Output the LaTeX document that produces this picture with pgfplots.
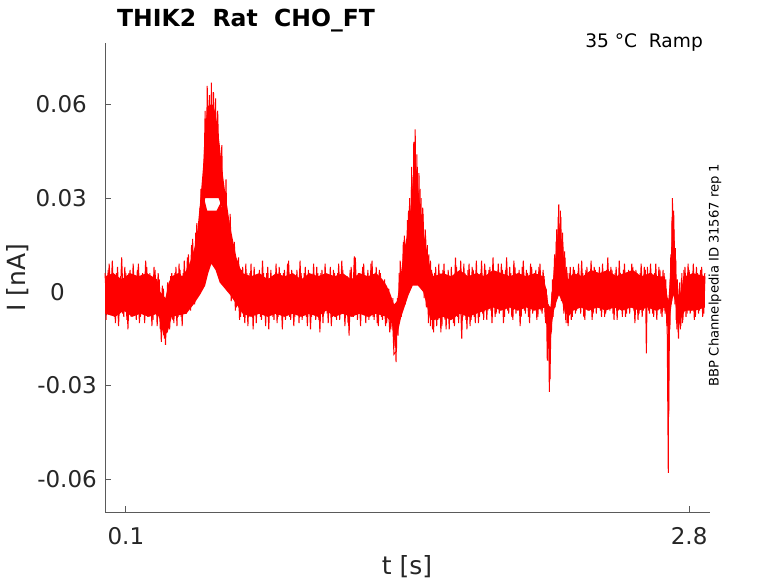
\documentclass[border=0pt]{standalone}
\usepackage{fontspec}
\setmainfont{DejaVu Sans}
\usepackage{pgfplots}
\pgfplotsset{compat=1.18}
\definecolor{txt}{RGB}{38,38,38}
\definecolor{axc}{RGB}{90,90,90}
\begin{document}
\begin{tikzpicture}
\useasboundingbox (0,0) rectangle (778bp,583bp);
\begin{axis}[
  at={(105bp,71bp)}, anchor=south west,
  scale only axis, width=605bp, height=469bp,
  xmin=0, xmax=2.9, ymin=-0.0705, ymax=0.0797,
  scaled ticks=false,
  axis x line*=bottom, axis y line*=left,
  axis line style={axc, line width=0.8bp},
  tick style={axc, line width=0.8bp},
  tick align=inside, major tick length=6bp,
  xtick={0.1,2.8}, xticklabels={0.1,2.8},
  ytick={-0.06,-0.03,0,0.03,0.06},
  yticklabels={-0.06,-0.03,{0\rule{32bp}{0pt}},{0.03\rule{10bp}{0pt}},{0.06\rule{10bp}{0pt}}},
  ticklabel style={font=\fontsize{23bp}{23bp}\selectfont, text=txt},
  yticklabel style={anchor=east, inner sep=0pt, xshift=-8bp},
  xticklabel style={anchor=north, inner sep=0pt, yshift=-15bp},
  clip=false,
]
% main band envelope
\addplot[fill=red, draw=none] coordinates {
(0,0.005) (0.04,0.006) (0.08,0.004) (0.12,0.006) (0.16,0.005) (0.20,0.006) (0.25,0.004) (0.265,0.000) (0.29,-0.002) (0.305,0.003) (0.32,0.005) (0.35,0.006) (0.37,0.005) (0.40,0.008) (0.42,0.012) (0.44,0.017) (0.46,0.024) (0.475,0.030) (0.49,0.026) (0.535,0.026) (0.55,0.028) (0.57,0.026) (0.60,0.018) (0.63,0.010) (0.66,0.006) (0.70,0.005) (0.74,0.006) (0.78,0.004) (0.82,0.006) (0.86,0.005) (0.90,0.006) (0.94,0.004) (0.98,0.006) (1.02,0.005) (1.06,0.006) (1.10,0.005) (1.14,0.006) (1.18,0.004) (1.22,0.006) (1.26,0.005) (1.30,0.006) (1.33,0.004) (1.35,0.002) (1.37,-0.001) (1.385,-0.004) (1.40,-0.003) (1.415,0.004) (1.43,0.012) (1.45,0.019) (1.465,0.027) (1.478,0.037) (1.487,0.044) (1.50,0.034) (1.515,0.025) (1.535,0.016) (1.558,0.008) (1.575,0.005) (1.62,0.006) (1.66,0.005) (1.70,0.007) (1.74,0.005) (1.78,0.006) (1.82,0.005) (1.86,0.007) (1.90,0.006) (1.94,0.005) (1.98,0.006) (2.02,0.005) (2.06,0.006) (2.10,0.005) (2.115,0.001) (2.125,-0.004) (2.135,-0.005) (2.145,0.002) (2.157,0.010) (2.168,0.017) (2.176,0.022) (2.19,0.016) (2.205,0.008) (2.22,0.004) (2.245,0.006) (2.29,0.005) (2.33,0.007) (2.37,0.006) (2.41,0.007) (2.45,0.005) (2.49,0.006) (2.53,0.007) (2.57,0.005) (2.61,0.006) (2.65,0.005) (2.684,0.005) (2.692,0.000) (2.700,-0.003) (2.708,0.004) (2.716,0.015) (2.722,0.023) (2.728,0.017) (2.735,0.006) (2.742,0.000) (2.750,-0.004) (2.765,0.002) (2.78,0.005) (2.82,0.006) (2.876,0.005)
(2.876,-0.005) (2.83,-0.006) (2.78,-0.006) (2.765,-0.008) (2.750,-0.011) (2.742,-0.008) (2.733,-0.003) (2.724,-0.001) (2.716,-0.004) (2.708,-0.008) (2.700,-0.011) (2.692,-0.009) (2.684,-0.005) (2.64,-0.006) (2.60,-0.005) (2.56,-0.006) (2.52,-0.005) (2.48,-0.006) (2.44,-0.005) (2.40,-0.006) (2.36,-0.005) (2.32,-0.006) (2.28,-0.005) (2.245,-0.006) (2.22,-0.008) (2.205,-0.006) (2.19,-0.003) (2.176,-0.001) (2.165,-0.003) (2.152,-0.006) (2.143,-0.010) (2.133,-0.019) (2.124,-0.015) (2.11,-0.005) (2.06,-0.006) (2.02,-0.005) (1.98,-0.006) (1.94,-0.005) (1.90,-0.006) (1.86,-0.005) (1.82,-0.006) (1.78,-0.007) (1.74,-0.008) (1.70,-0.007) (1.66,-0.009) (1.62,-0.008) (1.58,-0.009) (1.56,-0.009) (1.545,-0.005) (1.525,0.000) (1.50,0.002) (1.475,0.002) (1.455,-0.001) (1.44,-0.004) (1.42,-0.008) (1.40,-0.014) (1.39,-0.017) (1.375,-0.010) (1.35,-0.008) (1.30,-0.007) (1.26,-0.008) (1.22,-0.007) (1.18,-0.008) (1.14,-0.007) (1.10,-0.008) (1.06,-0.006) (1.02,-0.008) (0.98,-0.007) (0.94,-0.008) (0.90,-0.007) (0.86,-0.008) (0.82,-0.007) (0.78,-0.008) (0.74,-0.007) (0.70,-0.008) (0.66,-0.007) (0.63,-0.004) (0.60,-0.001) (0.575,0.001) (0.55,0.003) (0.53,0.007) (0.51,0.009) (0.495,0.006) (0.48,0.002) (0.455,-0.001) (0.425,-0.004) (0.39,-0.007) (0.32,-0.008) (0.30,-0.013) (0.28,-0.014) (0.265,-0.009) (0.25,-0.007) (0.21,-0.008) (0.17,-0.007) (0.13,-0.008) (0.09,-0.006) (0.05,-0.008) (0,-0.007)
} -- cycle;
% high sweep of the first peak
\addplot[fill=red, draw=none] coordinates {
(0.44,0.018) (0.455,0.028) (0.47,0.040) (0.48,0.052) (0.49,0.059) (0.50,0.060) (0.52,0.060) (0.535,0.055) (0.55,0.047) (0.56,0.040) (0.58,0.030) (0.60,0.021) (0.63,0.011) (0.65,0.007) (0.62,0.008) (0.59,0.016) (0.565,0.026) (0.545,0.030) (0.50,0.030) (0.48,0.030) (0.46,0.022) (0.445,0.013)
} -- cycle;
% noisy trace, sweep A
\addplot[red, line width=1bp] coordinates {
(0.00,0.006) (0.01,-0.007) (0.02,0.009) (0.03,-0.005) (0.04,0.005) (0.05,-0.010) (0.06,0.008) (0.07,-0.007) (0.08,0.011) (0.09,-0.008)
(0.10,0.006) (0.11,-0.012) (0.12,0.007) (0.13,-0.006) (0.14,0.005) (0.15,-0.009) (0.16,0.009) (0.17,-0.008) (0.18,0.006) (0.19,-0.010)
(0.20,0.008) (0.21,-0.007) (0.22,0.005) (0.23,-0.009) (0.24,0.007) (0.25,-0.011) (0.26,0.004) (0.27,-0.016) (0.28,0.001) (0.29,-0.017)
(0.30,0.003) (0.31,-0.012) (0.32,0.006) (0.33,-0.010) (0.34,0.008) (0.35,-0.008) (0.36,0.007) (0.37,-0.011) (0.38,0.010) (0.39,-0.007)
(0.40,0.012) (0.41,-0.006) (0.42,0.017) (0.43,-0.004) (0.44,0.022) (0.45,-0.001) (0.46,0.033) (0.47,0.020) (0.48,0.058) (0.485,0.034)
(0.49,0.066) (0.495,0.036) (0.50,0.063) (0.505,0.040) (0.51,0.067) (0.515,0.035) (0.52,0.064) (0.525,0.042) (0.53,0.062) (0.535,0.036)
(0.54,0.058) (0.55,0.032) (0.56,0.047) (0.57,0.004) (0.58,0.036) (0.59,0.000) (0.60,0.025) (0.61,-0.002) (0.62,0.016) (0.63,-0.005)
(0.64,0.011) (0.65,-0.008) (0.66,0.008) (0.67,-0.010) (0.68,0.006) (0.69,-0.008) (0.70,0.009) (0.71,-0.012) (0.72,0.005) (0.73,-0.007)
(0.74,0.007) (0.75,-0.009) (0.76,0.006) (0.77,-0.011) (0.78,0.008) (0.79,-0.007) (0.80,0.005) (0.81,-0.009) (0.82,0.009) (0.83,-0.008)
(0.84,0.006) (0.85,-0.012) (0.86,0.007) (0.87,-0.006) (0.88,0.010) (0.89,-0.009) (0.90,0.005) (0.91,-0.008) (0.92,0.007) (0.93,-0.010)
(0.94,0.006) (0.95,-0.007) (0.96,0.008) (0.97,-0.011) (0.98,0.005) (0.99,-0.008) (1.00,0.009) (1.01,-0.009) (1.02,0.006) (1.03,-0.013)
(1.04,0.007) (1.05,-0.007) (1.06,0.005) (1.07,-0.010) (1.08,0.008) (1.09,-0.008) (1.10,0.006) (1.11,-0.009) (1.12,0.009) (1.13,-0.007)
(1.14,0.007) (1.15,-0.011) (1.16,0.005) (1.17,-0.014) (1.18,0.008) (1.19,-0.008) (1.20,0.011) (1.21,-0.009) (1.22,0.006) (1.23,-0.007)
(1.24,0.009) (1.25,-0.010) (1.26,0.007) (1.27,-0.008) (1.28,0.010) (1.29,-0.009) (1.30,0.008) (1.31,-0.011) (1.32,0.006) (1.33,-0.009)
(1.34,0.004) (1.35,-0.010) (1.36,0.001) (1.37,-0.012) (1.38,-0.002) (1.385,-0.018) (1.39,-0.005) (1.395,-0.0225) (1.40,-0.003) (1.405,-0.014)
(1.41,0.006) (1.42,-0.008) (1.43,0.016) (1.44,-0.004) (1.45,0.023) (1.455,0.000) (1.46,0.030) (1.465,0.002) (1.47,0.040) (1.475,0.003)
(1.48,0.048) (1.485,0.010) (1.487,0.052) (1.49,0.006) (1.495,0.044) (1.50,0.004) (1.505,0.038) (1.51,0.003) (1.515,0.030) (1.52,0.001)
(1.525,0.025) (1.53,-0.002) (1.535,0.020) (1.54,-0.005) (1.545,0.015) (1.55,-0.010) (1.56,0.010) (1.57,-0.012) (1.58,0.006) (1.59,-0.011)
(1.60,0.009) (1.61,-0.013) (1.62,0.007) (1.63,-0.009) (1.64,0.005) (1.65,-0.012) (1.66,0.008) (1.67,-0.010) (1.68,0.011) (1.69,-0.008)
(1.70,0.006) (1.71,-0.015) (1.72,0.009) (1.73,-0.009) (1.74,0.007) (1.75,-0.011) (1.76,0.008) (1.77,-0.008) (1.78,0.010) (1.79,-0.010)
(1.80,0.006) (1.81,-0.007) (1.82,0.009) (1.83,-0.009) (1.84,0.007) (1.85,-0.006) (1.86,0.011) (1.87,-0.008) (1.88,0.006) (1.89,-0.007)
(1.90,0.009) (1.91,-0.010) (1.92,0.007) (1.93,-0.006) (1.94,0.008) (1.95,-0.008) (1.96,0.010) (1.97,-0.007) (1.98,0.006) (1.99,-0.011)
(2.00,0.008) (2.01,-0.006) (2.02,0.007) (2.03,-0.008) (2.04,0.009) (2.05,-0.007) (2.06,0.006) (2.07,-0.009) (2.08,0.008) (2.09,-0.006)
(2.10,0.007) (2.11,-0.008) (2.115,0.001) (2.12,-0.022) (2.125,-0.004) (2.13,-0.032) (2.135,-0.006) (2.14,-0.013) (2.145,0.004) (2.15,-0.004)
(2.155,0.012) (2.16,-0.003) (2.165,0.020) (2.17,0.000) (2.175,0.028) (2.18,0.002) (2.185,0.024) (2.19,-0.002) (2.195,0.016) (2.20,-0.007)
(2.205,0.011) (2.21,-0.010) (2.215,0.006) (2.22,-0.011) (2.23,0.008) (2.24,-0.008) (2.25,0.007) (2.26,-0.006) (2.27,0.009) (2.28,-0.007)
(2.29,0.006) (2.30,-0.009) (2.31,0.008) (2.32,-0.006) (2.33,0.010) (2.34,-0.007) (2.35,0.007) (2.36,-0.005) (2.37,0.008) (2.38,-0.008)
(2.39,0.006) (2.40,-0.007) (2.41,0.011) (2.42,-0.006) (2.43,0.007) (2.44,-0.009) (2.45,0.008) (2.46,-0.006) (2.47,0.006) (2.48,-0.008)
(2.49,0.009) (2.50,-0.007) (2.51,0.007) (2.52,-0.005) (2.53,0.008) (2.54,-0.010) (2.55,0.006) (2.56,-0.007) (2.57,0.009) (2.58,-0.006)
(2.59,0.007) (2.595,-0.0197) (2.60,0.008) (2.61,-0.007) (2.62,0.006) (2.63,-0.008) (2.64,0.009) (2.65,-0.006) (2.66,0.007) (2.67,-0.008)
(2.68,0.006) (2.685,-0.007) (2.69,0.001) (2.695,-0.013) (2.70,-0.058) (2.703,-0.004) (2.708,-0.012) (2.712,0.012) (2.716,-0.003) (2.72,0.030)
(2.724,0.000) (2.728,0.020) (2.732,-0.004) (2.736,0.010) (2.741,-0.012) (2.745,0.002) (2.749,-0.015) (2.755,0.003) (2.76,-0.011) (2.765,0.006)
(2.77,-0.009) (2.78,0.008) (2.79,-0.007) (2.80,0.007) (2.81,-0.006) (2.82,0.009) (2.83,-0.008) (2.84,0.006) (2.85,-0.006) (2.86,0.008)
(2.87,-0.007) (2.876,0.005)
};
% noisy trace, sweep B
\addplot[red, line width=1bp] coordinates {
(0.005,-0.009) (0.015,0.007) (0.025,-0.006) (0.035,0.010) (0.045,-0.008) (0.055,0.006) (0.065,-0.011) (0.075,0.005) (0.085,-0.007) (0.095,0.008)
(0.105,-0.009) (0.115,0.006) (0.125,-0.008) (0.135,0.009) (0.145,-0.006) (0.155,0.007) (0.165,-0.010) (0.175,0.005) (0.185,-0.007) (0.195,0.010)
(0.205,-0.008) (0.215,0.006) (0.225,-0.011) (0.235,0.008) (0.245,-0.007) (0.255,0.006) (0.265,-0.012) (0.275,0.002) (0.285,-0.015) (0.295,-0.001)
(0.305,-0.011) (0.315,0.005) (0.325,-0.009) (0.335,0.006) (0.345,-0.011) (0.355,0.009) (0.365,-0.008) (0.375,0.006) (0.385,-0.006) (0.395,0.011)
(0.405,-0.005) (0.415,0.015) (0.425,-0.003) (0.435,0.019) (0.445,0.000) (0.455,0.027) (0.465,0.005) (0.475,0.032) (0.485,0.008) (0.495,0.022)
(0.505,0.012) (0.515,0.023) (0.525,0.009) (0.535,0.024) (0.545,0.006) (0.555,0.030) (0.565,0.003) (0.575,0.027) (0.585,0.001) (0.595,0.020)
(0.605,-0.003) (0.615,0.014) (0.625,-0.006) (0.635,0.010) (0.645,-0.009) (0.655,0.007) (0.665,-0.008) (0.675,0.009) (0.685,-0.011) (0.695,0.006)
(0.705,-0.007) (0.715,0.008) (0.725,-0.010) (0.735,0.005) (0.745,-0.008) (0.755,0.010) (0.765,-0.007) (0.775,0.006) (0.785,-0.012) (0.795,0.007)
(0.805,-0.008) (0.815,0.005) (0.825,-0.010) (0.835,0.008) (0.845,-0.007) (0.855,0.006) (0.865,-0.009) (0.875,0.009) (0.885,-0.008) (0.895,0.007)
(0.905,-0.011) (0.915,0.005) (0.925,-0.007) (0.935,0.010) (0.945,-0.009) (0.955,0.006) (0.965,-0.008) (0.975,0.007) (0.985,-0.012) (0.995,0.005)
(1.005,-0.007) (1.015,0.008) (1.025,-0.009) (1.035,0.006) (1.045,-0.010) (1.055,0.009) (1.065,-0.007) (1.075,0.005) (1.085,-0.011) (1.095,0.007)
(1.105,-0.008) (1.115,0.006) (1.125,-0.009) (1.135,0.010) (1.145,-0.007) (1.155,0.005) (1.165,-0.010) (1.175,0.007) (1.185,-0.008) (1.195,0.0114)
(1.205,-0.007) (1.215,0.006) (1.225,-0.011) (1.235,0.008) (1.245,-0.007) (1.255,0.005) (1.265,-0.009) (1.275,0.009) (1.285,-0.008) (1.295,0.006)
(1.305,-0.010) (1.315,0.007) (1.325,-0.008) (1.335,0.003) (1.345,-0.011) (1.355,0.000) (1.365,-0.013) (1.375,-0.003) (1.385,-0.020) (1.397,-0.019)
(1.402,-0.002) (1.41,-0.010) (1.415,0.010) (1.425,-0.006) (1.435,0.018) (1.445,-0.002) (1.455,0.026) (1.462,0.004) (1.47,0.036) (1.477,0.005)
(1.483,0.046) (1.49,0.008) (1.497,0.040) (1.503,0.005) (1.51,0.033) (1.517,0.002) (1.523,0.027) (1.53,0.000) (1.537,0.018) (1.545,-0.004)
(1.552,0.012) (1.56,-0.011) (1.565,0.007) (1.575,-0.013) (1.585,0.008) (1.595,-0.009) (1.605,0.006) (1.615,-0.011) (1.625,0.009) (1.635,-0.012)
(1.645,0.007) (1.655,-0.009) (1.665,0.005) (1.675,-0.011) (1.685,0.008) (1.695,-0.010) (1.705,0.010) (1.715,-0.008) (1.725,0.006) (1.735,-0.012)
(1.745,0.009) (1.755,-0.009) (1.765,0.007) (1.775,-0.010) (1.785,0.006) (1.795,-0.008) (1.805,0.010) (1.815,-0.009) (1.825,0.007) (1.835,-0.006)
(1.845,0.008) (1.855,-0.010) (1.865,0.006) (1.875,-0.007) (1.885,0.009) (1.895,-0.006) (1.905,0.007) (1.915,-0.008) (1.925,0.011) (1.935,-0.007)
(1.945,0.006) (1.955,-0.009) (1.965,0.008) (1.975,-0.006) (1.985,0.007) (1.995,-0.008) (2.005,0.010) (2.015,-0.007) (2.025,0.006) (2.035,-0.010)
(2.045,0.008) (2.055,-0.006) (2.065,0.007) (2.075,-0.008) (2.085,0.009) (2.095,-0.007) (2.105,0.005) (2.112,-0.010) (2.118,-0.001) (2.123,-0.018)
(2.128,-0.005) (2.133,-0.028) (2.138,-0.008) (2.143,0.000) (2.148,-0.008) (2.153,0.008) (2.158,-0.005) (2.163,0.016) (2.168,-0.002) (2.172,0.024)
(2.178,0.001) (2.183,0.026) (2.188,-0.003) (2.193,0.019) (2.198,-0.006) (2.203,0.013) (2.208,-0.009) (2.213,0.008) (2.218,-0.010) (2.225,0.006)
(2.235,-0.009) (2.245,0.008) (2.255,-0.007) (2.265,0.006) (2.275,-0.005) (2.285,0.010) (2.295,-0.008) (2.305,0.007) (2.315,-0.006) (2.325,0.006)
(2.335,-0.009) (2.345,0.008) (2.355,-0.007) (2.365,0.006) (2.375,-0.006) (2.385,0.009) (2.395,-0.008) (2.405,0.007) (2.415,-0.005) (2.425,0.008)
(2.435,-0.007) (2.445,0.006) (2.455,-0.009) (2.465,0.010) (2.475,-0.006) (2.485,0.007) (2.495,-0.008) (2.505,0.006) (2.515,-0.007) (2.525,0.009)
(2.535,-0.006) (2.545,0.007) (2.555,-0.009) (2.565,0.006) (2.575,-0.008) (2.585,0.008) (2.605,-0.006) (2.615,0.009) (2.625,-0.007) (2.635,0.006)
(2.645,-0.009) (2.655,0.008) (2.665,-0.007) (2.675,0.007) (2.68,-0.006) (2.688,0.004) (2.693,-0.011) (2.698,-0.002) (2.702,-0.040) (2.706,-0.008)
(2.71,0.006) (2.714,-0.004) (2.718,0.024) (2.722,0.002) (2.726,0.026) (2.73,-0.002) (2.734,0.014) (2.738,-0.009) (2.743,0.004) (2.747,-0.013)
(2.752,0.001) (2.758,-0.012) (2.763,0.004) (2.768,-0.010) (2.775,0.007) (2.785,-0.008) (2.795,0.009) (2.805,-0.007) (2.815,0.006) (2.825,-0.009)
(2.835,0.008) (2.845,-0.007) (2.855,0.007) (2.865,-0.008) (2.875,0.006)
};
\end{axis}
\node[anchor=base west, font=\bfseries\fontsize{23.5bp}{23.5bp}\selectfont, text=black, inner sep=0pt] at (117bp,556.3bp) {THIK2\ \ Rat\ \ CHO\_FT};
\node[anchor=base east, font=\fontsize{18.6bp}{18.6bp}\selectfont, text=black, inner sep=0pt] at (703bp,535.7bp) {35 °C\ \ Ramp};
\node[rotate=90, font=\fontsize{13.1bp}{13.1bp}\selectfont, text=black, inner sep=0pt] at (715bp,308bp) {BBP Channelpedia ID 31567 rep 1};
\node[rotate=90, font=\fontsize{25bp}{25bp}\selectfont, text=txt, inner sep=0pt] at (17.5bp,305.5bp) {I [nA]};
\node[anchor=base, font=\fontsize{25bp}{25bp}\selectfont, text=txt, inner sep=0pt] at (407bp,8.5bp) {t [s]};
\end{tikzpicture}
\end{document}
